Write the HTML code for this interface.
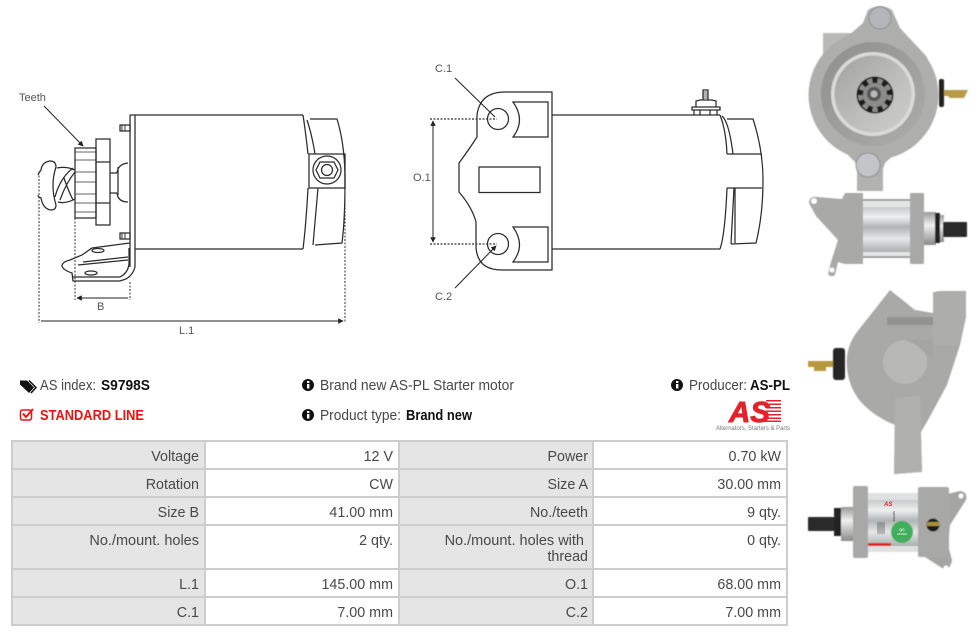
<!DOCTYPE html>
<html><head><meta charset="utf-8"><style>
html,body{margin:0;padding:0;background:#fff;width:976px;height:636px;overflow:hidden}
svg{display:block}
text{font-family:"Liberation Sans",sans-serif}
.d text{font-size:11px;fill:#555}
.l{fill:none;stroke:#2b2b2b;stroke-width:1.250}
.dot{fill:none;stroke:#333;stroke-width:1;stroke-dasharray:2 1.500}
.t text{font-size:14.300px;fill:#484848;text-anchor:end}
.t text.w{font-size:14.500px}
.i text{font-size:14.500px;fill:#484848}
.i .b{font-weight:bold;fill:#111}
</style></head><body>
<svg width="976" height="636" viewBox="0 0 976 636" xmlns="http://www.w3.org/2000/svg">
<defs>
<marker id="a" viewBox="0 0 8 8" refX="7" refY="4" markerWidth="5.500" markerHeight="5.500" orient="auto-start-reverse"><path d="M0 0L8 4L0 8z" fill="#222"/></marker>
<linearGradient id="si" x1="0" y1="0" x2="0" y2="1"><stop offset="0" stop-color="#c6c9ca"/><stop offset=".22" stop-color="#eef0f0"/><stop offset=".45" stop-color="#b0b4b5"/><stop offset=".7" stop-color="#e6e8e8"/><stop offset="1" stop-color="#aaaeae"/></linearGradient>
<linearGradient id="no" x1="0" y1="0" x2="0" y2="1"><stop offset="0" stop-color="#999"/><stop offset=".4" stop-color="#f0f0f0"/><stop offset="1" stop-color="#8a8a8a"/></linearGradient>
<linearGradient id="fa" x1="0" y1="0" x2="1" y2="1"><stop offset="0" stop-color="#a2a2a0"/><stop offset=".55" stop-color="#bdbdbb"/><stop offset="1" stop-color="#cfcfcd"/></linearGradient>
<linearGradient id="ri" x1="0" y1="0" x2="1" y2="1"><stop offset="0" stop-color="#8f8f8e"/><stop offset="1" stop-color="#adadac"/></linearGradient>
<filter id="s" x="-5%" y="-5%" width="110%" height="110%"><feGaussianBlur stdDeviation=".6"/></filter>
</defs>

<!-- LEFT DRAWING -->
<g class="d">
<text x="19" y="101">Teeth</text><text x="97" y="310">B</text><text x="179" y="334">L.1</text>
<path class="l" d="M135 115H303M135 249H303M130 115H135V267Q133 275 126 279L120 281H73L72 273Q63 270 62 266Q62 262 70 260L82 255L92 248L130 243M130 115V267"/>
<path class="l" d="M73 277H120Q128 273 129 264V248M78 265L128 260M83 262L128 257"/>
<ellipse class="l" cx="98" cy="250.500" rx="6" ry="2"/><ellipse class="l" cx="91" cy="273" rx="6" ry="2"/>
<path class="l" d="M303 115Q306 135 308 154M303 249Q306 225 308 188M307 120Q312 135 315 154M318 188L313 245M310 119H337Q345 145 345 180Q345 220 342 243L315 245"/>
<path class="l" d="M309 154H345V188H309z"/>
<circle class="l" cx="327" cy="170" r="14"/><path class="l" d="M320 162H334L338 170L334 178H320L316 170z"/><circle class="l" cx="327" cy="170" r="5.500"/>
<path class="l" d="M120 125H130V131H120zM120 233H130V239H120z"/><path d="M122 125v6M125 125v6M122 233v6M125 233v6" stroke="#333" stroke-width="1"/>
<path class="l" d="M75 148H96V218H75z"/><path d="M75 152H96M75 160H96M75 172H96M75 182H96M75 194H96M75 203H96M75 212H96" stroke="#333" stroke-width=".8" fill="none"/>
<path class="l" d="M96 139H110V225H96zM96 162H110M96 203H110"/>
<path class="l" d="M110 173H117M110 193H117M117 173Q118 164 128 163M117 193Q118 202 128 202M118 167V195"/>
<path class="l" d="M57 168Q66 166 75 170M58 202Q66 204 75 199M55 197Q60 178 73 168M60 200Q66 183 75 172M64 178Q68 190 73 200"/>
<path class="l" d="M38 175Q39 172 41 170Q42 162 50 161Q56 161 56 167Q50 185 56 205Q56 210 51 210Q43 209 41 198Q38 197 38 195"/>
<path class="dot" d="M39 172V323M345 190V323M75 218V300M130 282V300"/>
<path d="M77 298H128M41 321H343" stroke="#222" fill="none" marker-start="url(#a)" marker-end="url(#a)"/>
<path d="M44 106L83 146" stroke="#222" fill="none" marker-end="url(#a)"/>
</g>

<!-- RIGHT DRAWING -->
<g class="d">
<text x="435" y="72">C.1</text><text x="413" y="181">O.1</text><text x="435" y="300">C.2</text>
<path class="l" d="M552 92V270H502Q476 270 476 245V222Q472 207 459 192V163Q470 148 477 137Q477 125 477 115Q480 92 505 92z"/>
<circle class="l" cx="498" cy="119" r="10.500"/><circle class="l" cx="498" cy="244" r="10.500"/>
<rect class="l" x="479" y="167" width="61" height="25.500"/>
<path class="l" d="M513 102H548V137H513Q526 120 513 102zM513 227H548V262H513Q526 245 513 227z"/>
<path class="l" d="M552 115H720M552 249H720"/>
<path class="l" d="M720 115Q726 130 727 154M720 249Q725 235 727 188M722 116Q729 122 733 154M734 188L731 244M727 119H753Q763 150 763 180Q763 215 756 243L731 244M727 154H762M727 188H762M735 188V243"/>
<path class="l" d="M692 107H720V110H692zM696 107L696 101L700 100H712L716 101V107M703 100V90H708V100M694 110V115M700 110V115M710 110V115M717 110V115"/>
<path d="M703 92h5M703 94h5M703 96h5M703 98h5" stroke="#333" stroke-width=".7"/>
<path class="dot" d="M430 119H497M430 244H497" style="stroke-width:1.200"/>
<path d="M433 121V242" stroke="#222" fill="none" marker-start="url(#a)" marker-end="url(#a)"/>
<path d="M455 78L495 117M455 288L496 246" stroke="#222" fill="none" marker-end="url(#a)"/>
</g>

<!-- PHOTOS (blurred) -->
<g filter="url(#s)">
<!-- 1 -->
<rect x="823" y="33" width="28" height="28" fill="#b9b9b7"/>
<rect x="857" y="150" width="26" height="41" fill="#b2b2b0"/>
<circle cx="873.500" cy="95" r="65" fill="#aeaead"/>
<path d="M868 10Q880 2 892 10L900 28L927 57L910 140L885 163L880 177H860L855 162L843 150L820 60L863 23z" fill="#aeaead"/>
<circle cx="873" cy="94" r="52" fill="url(#ri)"/>
<circle cx="873" cy="94" r="42" fill="#dadad8"/>
<circle cx="873" cy="94" r="38.500" fill="url(#fa)"/>
<circle cx="880" cy="18" r="11" fill="#b4b7b9" stroke="#8d8f90"/>
<circle cx="868" cy="165" r="12" fill="#c3c6c8" stroke="#8d8f90"/>
<circle cx="875" cy="95" r="18.500" fill="#1e1e1e"/>
<circle cx="875" cy="95" r="12" fill="#8c8c8a"/>
<circle cx="875" cy="95" r="14.500" fill="none" stroke="#8c8c8a" stroke-width="5" stroke-dasharray="5 5.100"/>
<circle cx="874" cy="94" r="7" fill="#555"/><circle cx="874" cy="94" r="3.500" fill="#bbb"/>
<rect x="939" y="79" width="5" height="28" rx="2" fill="#222"/>
<path d="M944 90H968L964 98H950L948 96H944z" fill="#b89a4a"/>
<!-- 2 -->
<path d="M809 203Q809 196 817 197L842 199L845 193H863V264H845L838 262L835 275Q831 278 828 274L831 262L838 240L816 216z" fill="#a9a9a8"/>
<circle cx="814" cy="201" r="3" fill="#fff"/><circle cx="832" cy="270" r="2.500" fill="#fff"/>
<rect x="863" y="199" width="48" height="59" fill="#e4e6e6"/>
<rect x="863" y="207" width="48" height="45" fill="url(#si)"/>
<path d="M863 200H911M863 257H911" stroke="#888" stroke-width="1.500"/>
<rect x="910" y="193" width="14" height="71" rx="1" fill="#a8a8a7"/>
<rect x="924" y="212" width="12" height="33" fill="url(#no)"/>
<rect x="935" y="213" width="5" height="30" fill="#222"/>
<rect x="940" y="215" width="4" height="27" fill="url(#no)"/>
<rect x="943" y="222" width="24" height="15" rx="1" fill="#2a2a2a"/>
<!-- 3 -->
<path d="M890 290L915 310L933 313V295Q934 291 940 291H966V317L960 345L947 385L928 420L921 432L922 472L894 474L895 425Q878 418 867 408Q852 395 848 375Q843 350 857 332z" fill="#a9a9a8"/>
<circle cx="905" cy="362" r="22" fill="#b8b8b6"/>
<path d="M905 340H933V356H927Q920 345 905 340" fill="#a5a5a4"/>
<path d="M887 317H933V325H887z" fill="#929291"/>
<path d="M933 292H966V317L958 345H933z" fill="#adadac"/>
<path d="M895 398L920 396L922 472L894 474z" fill="#b0b0af"/>
<rect x="833" y="348" width="12" height="32" rx="3" fill="#262626"/>
<path d="M808 361H833V367H826V371H814V367H808z" fill="#b8973c"/>
<!-- 4 -->
<path d="M943 495L960 491Q968 492 966 500L950 525L948 545L952 560Q950 572 942 568L925 557V487H943z" fill="#a5a5a4"/>
<circle cx="961" cy="496" r="2.500" fill="#fff"/><circle cx="946" cy="568" r="2.500" fill="#fff"/>
<rect x="808" y="517" width="26" height="14" rx="1" fill="#2a2a2a"/>
<rect x="834" y="508" width="8" height="28" fill="#222"/>
<rect x="841" y="507" width="13" height="34" fill="url(#no)"/>
<rect x="853" y="486" width="15" height="72" rx="2" fill="#a8a8a7"/>
<rect x="868" y="493" width="50" height="59" fill="#dfe1e1"/>
<rect x="868" y="500" width="50" height="46" fill="url(#si)"/>
<rect x="918" y="487" width="31" height="70" rx="2" fill="#a8a8a7"/>
<circle cx="933" cy="525" r="6.500" fill="#1d1d1d"/><rect x="927" y="522" width="13" height="4" fill="#a88f3c"/>
<circle cx="902" cy="532" r="11" fill="#3fae5a"/>
<rect x="868" y="543" width="23" height="3" fill="#d9232a"/>
<path d="M878 522v12M880 522v12M882 522v12M884 522v12" stroke="#333" stroke-width=".8"/>
</g>
<text x="902" y="531" font-size="3.500" fill="#fff" text-anchor="middle" font-weight="bold">QC</text>
<text x="902" y="535" font-size="2.500" fill="#fff" text-anchor="middle">PASSED</text>
<text x="884" y="506" font-size="6" font-weight="bold" font-style="italic" fill="#d9232a">AS</text>
<text x="893" y="511" font-size="3" fill="#333" transform="rotate(90 893 511)">S9798S</text>

<!-- INFO -->
<g class="i">
<path d="M20 380.500H27L34 387.500L29 393L20 384.500z" fill="#111"/><path d="M29 380.500L36 387.500L31 393" fill="none" stroke="#111" stroke-width="1.500"/>
<text x="40" y="390" textLength="56" lengthAdjust="spacingAndGlyphs">AS index:</text><text class="b" x="101" y="390" textLength="49" lengthAdjust="spacingAndGlyphs">S9798S</text>
<rect x="20.500" y="410" width="11" height="10" rx="2" fill="none" stroke="#f01010" stroke-width="1.500"/><path d="M23 413.500L26 417L33 409" fill="none" stroke="#f01010" stroke-width="2"/>
<text x="40" y="420" style="font-weight:bold;fill:#f01010" textLength="104" lengthAdjust="spacingAndGlyphs">STANDARD LINE</text>

<circle cx="308" cy="385" r="6" fill="#111"/><rect x="307" y="384" width="2.400" height="4.500" fill="#fff"/><rect x="307" y="381" width="2.400" height="2" fill="#fff"/>
<text x="320" y="390" textLength="194" lengthAdjust="spacingAndGlyphs">Brand new AS-PL Starter motor</text>
<circle cx="308" cy="415" r="6" fill="#111"/><rect x="307" y="414" width="2.400" height="4.500" fill="#fff"/><rect x="307" y="411" width="2.400" height="2" fill="#fff"/>
<text x="320" y="420" textLength="81" lengthAdjust="spacingAndGlyphs">Product type:</text><text class="b" x="406" y="420" textLength="66" lengthAdjust="spacingAndGlyphs">Brand new</text>
<circle cx="677" cy="385" r="6" fill="#111"/><rect x="676" y="384" width="2.400" height="4.500" fill="#fff"/><rect x="676" y="381" width="2.400" height="2" fill="#fff"/>
<text x="689" y="390" textLength="58" lengthAdjust="spacingAndGlyphs">Producer:</text><text class="b" x="750" y="390" textLength="40" lengthAdjust="spacingAndGlyphs">AS-PL</text>
</g>
<!-- LOGO -->
<g fill="#e2232a">
<path d="M766 400H781V401.500H766zM766 403.500H781V405H766zM766 407H781V408.500H766zM766 410.500H781V412H766zM766 414H781V415.500H766zM764 417.500H781V419H764zM760 420.500H781V422H760z"/>
<text x="729" y="422" font-size="29" font-weight="bold" font-style="italic" stroke="#e2232a" stroke-width=".9" textLength="41" lengthAdjust="spacingAndGlyphs">AS</text>
</g>
<text x="716" y="430" font-size="6.200" fill="#777" textLength="74" lengthAdjust="spacingAndGlyphs">Alternators, Starters &amp; Parts</text>

<!-- TABLE -->
<rect x="12" y="442" width="192" height="183" fill="#e5e5e5"/>
<rect x="400" y="442" width="193" height="183" fill="#e5e5e5"/>
<g fill="#cdcdcd">
<rect x="11" y="440" width="777" height="2"/><rect x="11" y="468" width="777" height="2"/><rect x="11" y="496" width="777" height="2"/><rect x="11" y="524" width="777" height="2"/><rect x="11" y="568" width="777" height="2"/><rect x="11" y="596" width="777" height="2"/><rect x="11" y="624" width="777" height="2"/>
<rect x="11" y="440" width="2" height="186"/><rect x="204" y="440" width="2" height="186"/><rect x="398" y="440" width="2" height="186"/><rect x="592" y="440" width="2" height="186"/><rect x="786" y="440" width="2" height="186"/>
</g>
<g class="t">
<text x="199" y="461">Voltage</text><text x="393" y="461">12 V</text><text x="588" y="461">Power</text><text x="781" y="461">0.70 kW</text>
<text x="199" y="489">Rotation</text><text x="393" y="489">CW</text><text x="588" y="489">Size A</text><text x="781" y="489">30.00 mm</text>
<text x="199" y="517">Size B</text><text x="393" y="517">41.00 mm</text><text x="588" y="517">No./teeth</text><text x="781" y="517">9 qty.</text>
<text class="w" x="199" y="545">No./mount. holes</text><text x="393" y="545">2 qty.</text><text class="w" x="584" y="545">No./mount. holes with</text><text x="588" y="561">thread</text><text x="781" y="545">0 qty.</text>
<text x="199" y="589">L.1</text><text x="393" y="589">145.00 mm</text><text x="588" y="589">O.1</text><text x="781" y="589">68.00 mm</text>
<text x="199" y="617">C.1</text><text x="393" y="617">7.00 mm</text><text x="588" y="617">C.2</text><text x="781" y="617">7.00 mm</text>
</g>
</svg>
</body></html>
